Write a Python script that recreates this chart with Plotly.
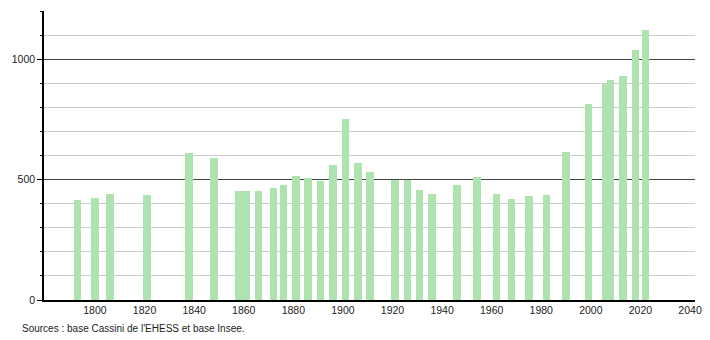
import plotly.graph_objects as go

years = [1793, 1800, 1806, 1821, 1838, 1848, 1858, 1861, 1866, 1872, 1876, 1881,
         1886, 1891, 1896, 1901, 1906, 1911, 1921, 1926, 1931, 1936, 1946, 1954,
         1962, 1968, 1975, 1982, 1990, 1999, 2006, 2008, 2013, 2018, 2022]
population = [417, 425, 439, 435, 612, 588, 451, 451, 451, 464, 476, 516,
              508, 494, 559, 753, 567, 532, 500, 500, 458, 439, 476, 509,
              439, 421, 431, 435, 616, 815, 897, 914, 931, 1038, 1121]
x_ticks = [1800, 1820, 1840, 1860, 1880, 1900, 1920, 1940, 1960, 1980, 2000, 2020, 2040]
source = "Sources : base Cassini de l'EHESS et base Insee."

fig = go.Figure()
fig.add_trace(go.Bar(
    x=years, y=population, width=3,
    marker=dict(color="#aee2ae", line=dict(width=0)),
    hoverinfo="x+y",
))

font = dict(family="Liberation Sans, Arial, sans-serif", size=10.5, color="#222")

fig.update_layout(
    width=710, height=340,
    margin=dict(l=44, r=8, t=11, b=40),
    paper_bgcolor="white", plot_bgcolor="white",
    showlegend=False,
    font=font,
    bargap=0,
    xaxis=dict(
        range=[1779.45, 2042], tickvals=x_ticks, ticktext=[str(t) for t in x_ticks],
        showgrid=False, zeroline=False, showline=True, linecolor="#000", linewidth=1.5,
        ticks="", tickfont=font,
    ),
    yaxis=dict(
        range=[0, 1200], tickvals=[0, 500, 1000], ticktext=["0", "500", "1000"],
        showgrid=True, gridcolor="#444", gridwidth=1,
        zeroline=False, showline=True, linecolor="#000", linewidth=1.5,
        ticks="outside", ticklen=5, tickcolor="#000", tickwidth=1,
        tickfont=font,
        minor=dict(dtick=100, tick0=0, showgrid=True, gridcolor="#cccccc", gridwidth=1,
                   ticks="outside", ticklen=2, tickcolor="#000"),
        layer="below traces",
    ),
    annotations=[dict(
        text=source, xref="paper", yref="paper", x=(20 - 44) / 658, y=(300 - 328) / 289,
        xanchor="left", yanchor="middle", showarrow=False,
        font=dict(family="Liberation Sans, Arial, sans-serif", size=10, color="#222"),
    )],
)

fig.write_html("out.html")
